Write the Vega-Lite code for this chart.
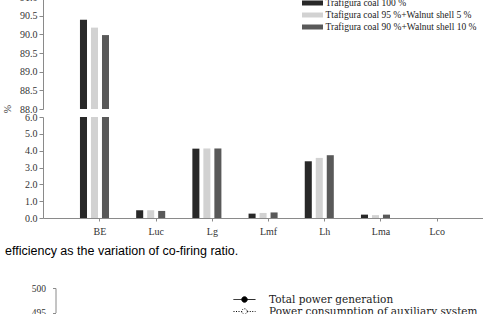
{
  "$schema": "https://vega.github.io/schema/vega-lite/v6.json",
  "padding": {"left": 2, "top": -8, "right": 0, "bottom": -3},
  "background": "white",
  "bounds": "flush",
  "spacing": 8,
  "config": {
    "view": {"stroke": null},
    "axis": {"labelFont": "Liberation Serif", "labelFontSize": 10, "labelColor": "#333333", "domainColor": "#8a8a8a", "tickColor": "#8a8a8a", "grid": false}
  },
  "resolve": {
    "scale": {"x": "independent", "y": "independent", "color": "independent", "xOffset": "independent", "fill": "independent", "strokeDash": "independent"},
    "legend": {"color": "independent", "fill": "independent", "strokeDash": "independent"}
  },
  "datasets": {
    "bars": [
      {"category": "BE", "blend": "Trafigura coal 100 %", "value": 90.39},
      {"category": "BE", "blend": "Ttafigura coal 95 %+Walnut shell 5 %", "value": 90.18},
      {"category": "BE", "blend": "Trafigura coal 90 %+Walnut shell 10 %", "value": 89.98},
      {"category": "Luc", "blend": "Trafigura coal 100 %", "value": 0.46},
      {"category": "Luc", "blend": "Ttafigura coal 95 %+Walnut shell 5 %", "value": 0.46},
      {"category": "Luc", "blend": "Trafigura coal 90 %+Walnut shell 10 %", "value": 0.42},
      {"category": "Lg", "blend": "Trafigura coal 100 %", "value": 4.12},
      {"category": "Lg", "blend": "Ttafigura coal 95 %+Walnut shell 5 %", "value": 4.13},
      {"category": "Lg", "blend": "Trafigura coal 90 %+Walnut shell 10 %", "value": 4.13},
      {"category": "Lmf", "blend": "Trafigura coal 100 %", "value": 0.26},
      {"category": "Lmf", "blend": "Ttafigura coal 95 %+Walnut shell 5 %", "value": 0.3},
      {"category": "Lmf", "blend": "Trafigura coal 90 %+Walnut shell 10 %", "value": 0.33},
      {"category": "Lh", "blend": "Trafigura coal 100 %", "value": 3.37},
      {"category": "Lh", "blend": "Ttafigura coal 95 %+Walnut shell 5 %", "value": 3.57},
      {"category": "Lh", "blend": "Trafigura coal 90 %+Walnut shell 10 %", "value": 3.73},
      {"category": "Lma", "blend": "Trafigura coal 100 %", "value": 0.2},
      {"category": "Lma", "blend": "Ttafigura coal 95 %+Walnut shell 5 %", "value": 0.17},
      {"category": "Lma", "blend": "Trafigura coal 90 %+Walnut shell 10 %", "value": 0.2},
      {"category": "Lco", "blend": "Trafigura coal 100 %", "value": 0},
      {"category": "Lco", "blend": "Ttafigura coal 95 %+Walnut shell 5 %", "value": 0},
      {"category": "Lco", "blend": "Trafigura coal 90 %+Walnut shell 10 %", "value": 0}
    ]
  },
  "vconcat": [
    {
      "width": 443,
      "height": 112,
      "data": {"name": "bars"},
      "transform": [{"filter": "datum.value > 50"}],
      "mark": {"type": "bar", "clip": true},
      "encoding": {
        "x": {"field": "category", "type": "nominal", "axis": null,
          "scale": {"domain": ["BE", "Luc", "Lg", "Lmf", "Lh", "Lma", "Lco"], "paddingInner": 0.217, "paddingOuter": 0.55, "align": 0.566, "round": false}},
        "xOffset": {"field": "blend", "type": "nominal",
          "scale": {"domain": ["Trafigura coal 100 %", "Ttafigura coal 95 %+Walnut shell 5 %", "Trafigura coal 90 %+Walnut shell 10 %", "pad"], "paddingInner": 0.36, "paddingOuter": 0.18, "round": false}},
        "y": {"field": "value", "type": "quantitative",
          "scale": {"domain": [88, 91], "zero": false, "nice": false},
          "axis": {"values": [88, 88.5, 89, 89.5, 90, 90.5, 91], "format": ".1f", "tickSize": 4, "labelPadding": 2,
            "title": "%", "titleX": -31, "titleY": 111.5, "titleAngle": -90, "titleAlign": "center", "titleBaseline": "bottom",
            "titleFont": "Liberation Serif", "titleFontSize": 10, "titleFontWeight": "normal", "titleColor": "#333333"}},
        "y2": {"datum": 88},
        "color": {"field": "blend", "type": "nominal",
          "scale": {"domain": ["Trafigura coal 100 %", "Ttafigura coal 95 %+Walnut shell 5 %", "Trafigura coal 90 %+Walnut shell 10 %"], "range": ["#282828", "#d2d2d2", "#595959"]},
          "legend": {"orient": "none", "legendX": 264.5, "legendY": 1, "title": null, "direction": "vertical",
            "symbolType": "M-2.1,-0.5H2.1V0.5H-2.1Z", "symbolSize": 100, "symbolStrokeWidth": 0, "symbolOffset": 0,
            "labelFont": "Liberation Serif", "labelFontSize": 9.5, "labelColor": "#222222", "labelOffset": 8, "labelLimit": 300,
            "rowPadding": 2, "padding": 0}}
      }
    },
    {
      "width": 443,
      "height": 101,
      "data": {"name": "bars"},
      "mark": {"type": "bar", "clip": true},
      "encoding": {
        "x": {"field": "category", "type": "nominal",
          "scale": {"domain": ["BE", "Luc", "Lg", "Lmf", "Lh", "Lma", "Lco"], "paddingInner": 0.217, "paddingOuter": 0.55, "align": 0.566, "round": false},
          "axis": {"title": null, "labelAngle": 0, "tickSize": 3, "labelPadding": 5}},
        "xOffset": {"field": "blend", "type": "nominal",
          "scale": {"domain": ["Trafigura coal 100 %", "Ttafigura coal 95 %+Walnut shell 5 %", "Trafigura coal 90 %+Walnut shell 10 %", "pad"], "paddingInner": 0.36, "paddingOuter": 0.18, "round": false}},
        "y": {"field": "value", "type": "quantitative",
          "scale": {"domain": [0, 6], "nice": false},
          "axis": {"values": [0, 1, 2, 3, 4, 5, 6], "format": ".1f", "tickSize": 4, "labelPadding": 2, "title": null}},
        "color": {"field": "blend", "type": "nominal",
          "scale": {"domain": ["Trafigura coal 100 %", "Ttafigura coal 95 %+Walnut shell 5 %", "Trafigura coal 90 %+Walnut shell 10 %"], "range": ["#282828", "#d2d2d2", "#595959"]},
          "legend": null}
      }
    },
    {
      "width": 443,
      "height": 54,
      "data": {"values": []},
      "mark": "point"
    },
    {
      "width": 443,
      "height": 24.5,
      "title": {"text": "efficiency as the variation of co-firing ratio.", "anchor": "start", "frame": "group", "dx": -38, "offset": 16,
        "font": "Liberation Sans", "fontSize": 12.5, "fontWeight": "normal", "color": "#000000", "baseline": "alphabetic"},
      "data": {"values": []},
      "mark": {"type": "point", "filled": true, "stroke": "#000000", "strokeWidth": 1, "opacity": 1},
      "encoding": {
        "y": {"field": "power", "type": "quantitative",
          "scale": {"domain": [495, 500], "zero": false, "nice": false},
          "axis": {"values": [495, 500], "format": "d", "title": null, "offset": -12.5, "tickSize": 3, "labelPadding": 7, "labelFontSize": 9.5}},
        "fill": {"field": "series", "type": "nominal",
          "scale": {"domain": ["Total power generation", "Power consumption of auxiliary system"], "range": ["#000000", "#ffffff"]},
          "legend": {"orient": "none", "legendX": 196, "legendY": 6, "title": null, "direction": "vertical",
            "symbolType": "M-2.2,0H-0.55M0.55,0H2.2M0.55,0A0.55,0.55 0 1,1 -0.55,0A0.55,0.55 0 1,1 0.55,0", "symbolSize": 100,
            "symbolStrokeColor": "#000000", "symbolStrokeWidth": 1, "symbolOffset": 0,
            "labelFont": "DejaVu Serif", "labelFontSize": 10.5, "labelColor": "#222222", "labelOffset": 19, "labelLimit": 300,
            "rowPadding": 1, "padding": 0}},
        "strokeDash": {"field": "series", "type": "nominal",
          "scale": {"domain": ["Total power generation", "Power consumption of auxiliary system"], "range": [[1, 0], [1, 1.5]]},
          "legend": {"orient": "none", "legendX": 196, "legendY": 6, "title": null, "direction": "vertical",
            "symbolType": "M-2.2,0H-0.55M0.55,0H2.2M0.55,0A0.55,0.55 0 1,1 -0.55,0A0.55,0.55 0 1,1 0.55,0", "symbolSize": 100,
            "symbolStrokeColor": "#000000", "symbolStrokeWidth": 1, "symbolOffset": 0,
            "labelFont": "DejaVu Serif", "labelFontSize": 10.5, "labelColor": "#222222", "labelOffset": 19, "labelLimit": 300,
            "rowPadding": 1, "padding": 0}}
      }
    }
  ]
}
